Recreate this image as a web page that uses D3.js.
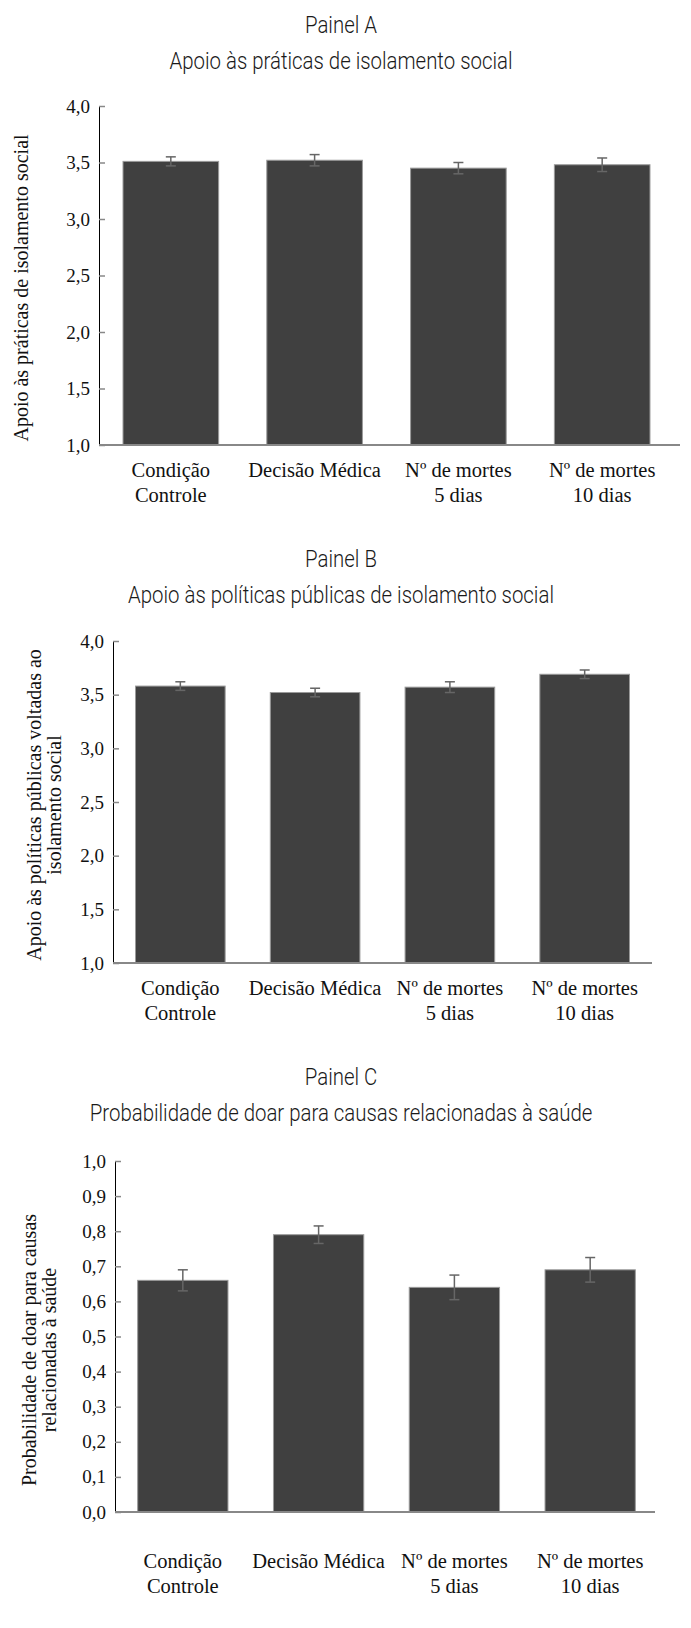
<!DOCTYPE html>
<html>
<head>
<meta charset="utf-8">
<script src="https://cdn.jsdelivr.net/npm/d3@7"></script>
<style>
  body { margin: 0; background: #fff; }
  svg { display: block; }
</style>
</head>
<body>
<div id="chart"></div>
<script>
// categories shared by all three panels (line-broken as in the figure)
const categories = ["Condição Controle", "Decisão Médica", "Nº de mortes 5 dias", "Nº de mortes 10 dias"];
const categoryLines = [["Condição", "Controle"], ["Decisão Médica"], ["Nº de mortes", "5 dias"], ["Nº de mortes", "10 dias"]];

// Painel A
const praticasMeans = [3.51, 3.52, 3.45, 3.48];
const praticasErr = [0.04, 0.05, 0.05, 0.06];
// Painel B
const politicasMeans = [3.58, 3.52, 3.57, 3.69];
const politicasErr = [0.04, 0.04, 0.05, 0.04];
// Painel C
const doarMeans = [0.66, 0.79, 0.64, 0.69];
const doarErr = [0.03, 0.025, 0.035, 0.035];

const ticks4 = [1.0, 1.5, 2.0, 2.5, 3.0, 3.5, 4.0];
const ticks1 = [0, 0.1, 0.2, 0.3, 0.4, 0.5, 0.6, 0.7, 0.8, 0.9, 1.0];

const width = 691, height = 1628;
const serif = "'Liberation Serif', 'Times New Roman', serif";
const light = "Roboto, 'Liberation Sans', sans-serif";

const svg = d3.select("#chart").append("svg")
    .attr("width", width)
    .attr("height", height);

const fmt = d => d3.format(".1f")(d).replace(".", ",");

const title = (g, x, y, txt) => g.append("text")
    .attr("transform", `translate(${x},${y}) scale(0.85,1)`)
    .attr("text-anchor", "middle")
    .attr("font-family", light)
    .attr("font-weight", 300)
    .attr("font-size", 24)
    .attr("fill", "#1a1a1a")
    .text(txt);

const panel = (opt) => {
  const g = svg.append("g");
  const data = categories.map((c, i) => ({c, y: opt.means[i], e: opt.err[i]}));

  const x = d3.scaleBand()
      .domain(categories)
      .range([opt.left, opt.right])
      .paddingInner(0.335)
      .paddingOuter(0.167);
  const y = d3.scaleLinear()
      .domain(opt.domain)
      .range([opt.bottom, opt.top]);

  title(g, 341, opt.titleY, opt.panel);
  title(g, 341, opt.titleY + 36, opt.title);

  // bars
  g.append("g")
    .selectAll("rect")
    .data(data)
    .join("rect")
      .attr("x", d => x(d.c))
      .attr("y", d => y(d.y))
      .attr("width", x.bandwidth())
      .attr("height", d => y(opt.domain[0]) - y(d.y))
      .attr("fill", "#404040")
      .attr("stroke", "#9a9a9a")
      .attr("stroke-width", 1);

  // error bars
  const eb = g.append("g")
      .attr("stroke", "#666")
      .attr("stroke-width", 1.5)
    .selectAll("g")
    .data(data)
    .join("g")
      .attr("transform", d => `translate(${x(d.c) + x.bandwidth() / 2},0)`);
  eb.append("line")
      .attr("y1", d => y(d.y - d.e)).attr("y2", d => y(d.y + d.e));
  eb.append("line")
      .attr("x1", -5).attr("x2", 5)
      .attr("y1", d => y(d.y + d.e)).attr("y2", d => y(d.y + d.e));
  eb.append("line")
      .attr("x1", -5).attr("x2", 5)
      .attr("y1", d => y(d.y - d.e)).attr("y2", d => y(d.y - d.e));

  // y axis
  g.append("g")
      .attr("transform", `translate(${opt.left},0)`)
      .call(d3.axisRight(y).tickValues(opt.ticks).tickFormat(fmt).tickSize(6))
      .call(g => g.select(".domain").attr("stroke", "#000").attr("d", `M0.5,${opt.top}V${opt.bottom}`))
      .call(g => g.selectAll(".tick line").attr("stroke", "#888").attr("stroke-width", 1.5))
      .call(g => g.selectAll(".tick text")
          .attr("x", -9)
          .attr("text-anchor", "end")
          .attr("font-family", serif)
          .attr("font-size", 19)
          .attr("fill", "#111"));

  // x axis
  const xa = g.append("g")
      .attr("transform", `translate(0,${opt.bottom})`)
      .call(d3.axisBottom(x).tickSize(0).tickFormat(""))
      .call(g => g.select(".domain").attr("stroke", "#888").attr("stroke-width", 2)
          .attr("d", `M${opt.left},0H${opt.axisEnd}`));
  xa.selectAll(".tick")
    .append("text")
      .attr("fill", "#111")
      .attr("font-family", serif)
      .attr("font-size", 20.5)
      .attr("text-anchor", "middle")
    .selectAll("tspan")
    .data((d, i) => categoryLines[i])
    .join("tspan")
      .attr("x", 0)
      .attr("y", (d, j) => opt.labelY + j * 25)
      .text(d => d);

  // y title
  const yt = g.append("text")
      .attr("transform", `translate(${opt.ytX},${opt.ytY}) rotate(-90)`)
      .attr("text-anchor", "middle")
      .attr("font-family", serif)
      .attr("font-size", 20)
      .attr("fill", "#111");
  yt.selectAll("tspan")
    .data(opt.ytitle)
    .join("tspan")
      .attr("x", 0)
      .attr("y", (d, j) => j * 20)
      .text(d => d);
};

panel({
  panel: "Painel A", title: "Apoio às práticas de isolamento social",
  means: praticasMeans, err: praticasErr, domain: [1, 4], ticks: ticks4,
  ytitle: ["Apoio às práticas de isolamento social"],
  left: 99, right: 674, top: 106, bottom: 445, axisEnd: 680, labelY: 32,
  titleY: 33, ytX: 28, ytY: 288
});

panel({
  panel: "Painel B", title: "Apoio às políticas públicas de isolamento social",
  means: politicasMeans, err: politicasErr, domain: [1, 4], ticks: ticks4,
  ytitle: ["Apoio às políticas públicas voltadas ao", "isolamento social"],
  left: 113, right: 652, top: 641, bottom: 963, axisEnd: 652, labelY: 32,
  titleY: 567, ytX: 41, ytY: 805
});

panel({
  panel: "Painel C", title: "Probabilidade de doar para causas relacionadas à saúde",
  means: doarMeans, err: doarErr, domain: [0, 1], ticks: ticks1,
  ytitle: ["Probabilidade de doar para causas", "relacionadas à saúde"],
  left: 115, right: 658, top: 1161, bottom: 1512, axisEnd: 655, labelY: 56,
  titleY: 1085, ytX: 36, ytY: 1350
});
</script>
</body>
</html>
